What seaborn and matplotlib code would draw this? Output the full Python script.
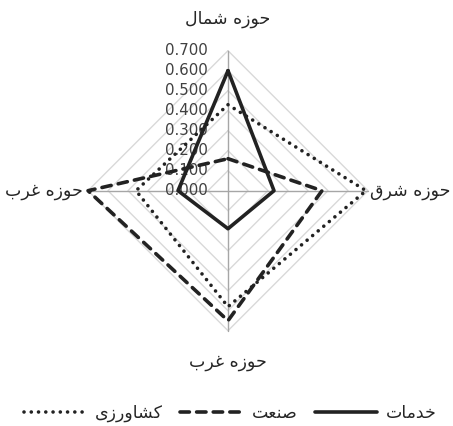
import numpy as np
import pandas as pd
import matplotlib
matplotlib.use("Agg")
import matplotlib.pyplot as plt
import seaborn as sns

# axes of the radar, clockwise from the top
categories = ["حوزه شمال", "حوزه شرق", "حوزه غرب", "حوزه غرب"]
khadamat = [0.60, 0.23, 0.19, 0.25]
sanat = [0.16, 0.47, 0.65, 0.70]
keshavarzi = [0.43, 0.69, 0.58, 0.46]
series_names = ["خدمات", "صنعت", "کشاورزی"]
levels = [0.0, 0.1, 0.2, 0.3, 0.4, 0.5, 0.6, 0.7]

# matplotlib has no arabic shaping: map letters to presentation forms and reverse
FORMS = {
    "ا": ("\uFE8D", "\uFE8E", None, None),
    "ب": ("\uFE8F", "\uFE90", "\uFE91", "\uFE92"),
    "ت": ("\uFE95", "\uFE96", "\uFE97", "\uFE98"),
    "ح": ("\uFEA1", "\uFEA2", "\uFEA3", "\uFEA4"),
    "خ": ("\uFEA5", "\uFEA6", "\uFEA7", "\uFEA8"),
    "د": ("\uFEA9", "\uFEAA", None, None),
    "ر": ("\uFEAD", "\uFEAE", None, None),
    "ز": ("\uFEAF", "\uFEB0", None, None),
    "ش": ("\uFEB5", "\uFEB6", "\uFEB7", "\uFEB8"),
    "ص": ("\uFEB9", "\uFEBA", "\uFEBB", "\uFEBC"),
    "ع": ("\uFEC9", "\uFECA", "\uFECB", "\uFECC"),
    "غ": ("\uFECD", "\uFECE", "\uFECF", "\uFED0"),
    "ق": ("\uFED5", "\uFED6", "\uFED7", "\uFED8"),
    "ل": ("\uFEDD", "\uFEDE", "\uFEDF", "\uFEE0"),
    "م": ("\uFEE1", "\uFEE2", "\uFEE3", "\uFEE4"),
    "ن": ("\uFEE5", "\uFEE6", "\uFEE7", "\uFEE8"),
    "ه": ("\uFEE9", "\uFEEA", "\uFEEB", "\uFEEC"),
    "و": ("\uFEED", "\uFEEE", None, None),
    "ک": ("\uFB8E", "\uFB8F", "\uFB90", "\uFB91"),
    "ی": ("\uFBFC", "\uFBFD", "\uFBFE", "\uFBFF"),
}


def shape(text):
    out = []
    for i, ch in enumerate(text):
        forms = FORMS.get(ch)
        if forms is None:
            out.append(ch)
            continue
        prev = text[i - 1] if i > 0 else None
        nxt = text[i + 1] if i + 1 < len(text) else None
        join_prev = prev in FORMS and FORMS[prev][2] is not None
        join_next = forms[2] is not None and nxt in FORMS
        if join_prev and join_next:
            out.append(forms[3])
        elif join_prev:
            out.append(forms[1])
        elif join_next:
            out.append(forms[2])
        else:
            out.append(forms[0])
    return "".join(reversed(out))


sns.set_style("white")
plt.rcParams["font.family"] = ["DejaVu Sans"]

angles = np.deg2rad([0, 90, 180, 270])


def to_xy(values):
    r = np.append(values, values[0])
    a = np.append(angles, angles[0])
    return r * np.sin(a), r * np.cos(a)


fig = plt.figure(figsize=(4.53, 4.26), dpi=100)
ax = fig.add_axes([0, 0, 1, 1])
# 200 px per unit, centre at (228, 190.7) px
ax.set_xlim(-228 / 200, (453 - 228) / 200)
ax.set_ylim(-(426 - 190.7) / 200, 190.7 / 200)
ax.axis("off")

grid_color = "#d9d9d9"
for lv in levels[1:]:
    gx, gy = to_xy([lv] * 4)
    ax.plot(gx, gy, color=grid_color, lw=1, zorder=1)
for a in angles:
    ax.plot([0, levels[-1] * np.sin(a)], [0, levels[-1] * np.cos(a)],
            color="#a6a6a6", lw=1, zorder=2)

for lv in levels:
    ax.text(-0.1, lv, f"{lv:.3f}", ha="right", va="center",
            fontsize=10.8, color="#404040", zorder=3)

line_color = "#222222"
styles = {
    "خدمات": dict(linestyle="-"),
    "صنعت": dict(linestyle=(0, (2.6, 2.0)), dash_capstyle="round"),
    "کشاورزی": dict(linestyle=(0, (0.01, 2.0)), dash_capstyle="round"),
}
data = {"خدمات": khadamat, "صنعت": sanat, "کشاورزی": keshavarzi}

handles = {}
for name in series_names:
    x, y = to_xy(data[name])
    df = pd.DataFrame({"x": x, "y": y})
    sns.lineplot(data=df, x="x", y="y", sort=False, estimator=None, ax=ax,
                 color=line_color, lw=2.6, zorder=4, **styles[name])
    handles[name] = ax.lines[-1]

label_font = 12.5
ax.text(0, 0.86, shape(categories[0]), ha="center", va="center", fontsize=label_font)
ax.text(0.91, 0, shape(categories[1]), ha="center", va="center", fontsize=label_font)
ax.text(0, -0.857, shape(categories[2]), ha="center", va="center", fontsize=label_font)
ax.text(-0.92, 0, shape(categories[3]), ha="center", va="center", fontsize=label_font)

order = ["کشاورزی", "صنعت", "خدمات"]
ax.legend([handles[n] for n in order], [shape(n) for n in order],
          loc="center", bbox_to_anchor=(0.508, 0.03), ncol=3, frameon=False,
          fontsize=label_font, handlelength=3.6, handletextpad=0.5,
          columnspacing=1.0)

fig.savefig("out.png", dpi=100)
